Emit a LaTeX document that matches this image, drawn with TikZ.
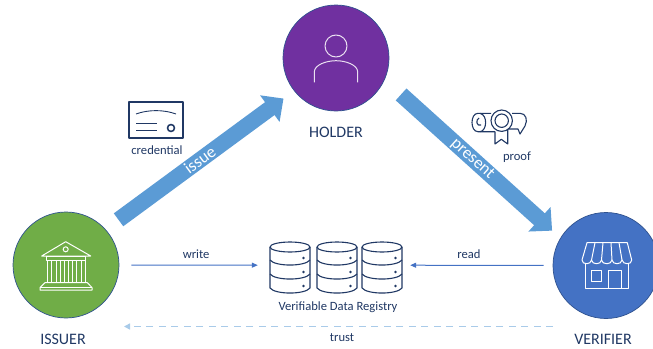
\documentclass[tikz,border=0pt]{standalone}
\usepackage{fontspec}
\setmainfont{Carlito}
\usetikzlibrary{arrows.meta,positioning}
\definecolor{navy}{HTML}{203864}
\definecolor{rim}{HTML}{2F528F}
\definecolor{issuergreen}{HTML}{70AD47}
\definecolor{holderpurple}{HTML}{7030A0}
\definecolor{verifierblue}{HTML}{4472C4}
\definecolor{arrowblue}{HTML}{5B9BD5}
\definecolor{trustblue}{HTML}{A9CBE9}

\begin{document}
\begin{tikzpicture}
[x=1pt, y=-1pt,
% STYLES
% The role style is used to draw the three big circles
role/.style={circle, draw=rim, line width=0.7pt, inner sep=0pt, minimum size=106pt},
% The rolename style is used for the captions below the circles
rolename/.style={text=navy, font=\fontsize{16}{18}\selectfont, inner sep=0pt},
% The caption style is used for the small labels
caption/.style={text=navy, font=\fontsize{12.6}{14}\selectfont, inner sep=0pt},
% The bigarrow style is used to draw the two wide arrows
bigarrow/.style={arrowblue, line width=16pt, -{Triangle[length=17pt,width=32pt]}},
% The arrowtext style is used for the text on the wide arrows
arrowtext/.style={text=white, font=\fontsize{17}{19}\selectfont, sloped, inner sep=0pt},
% The thinarrow style is used for write and read
thinarrow/.style={verifierblue, line width=1pt, -{Triangle[length=6pt,width=5pt]}},
% The icon styles are used for the line drawings
whiteicon/.style={draw=white, line width=1pt, line join=round},
navyicon/.style={draw=navy, line width=1.1pt, line join=round}]

\path[use as bounding box, clip] (0,0) rectangle (653,348);

% Draw roles
\node [role, fill=issuergreen] (issuer) at (66,265) {};
\node [role, fill=holderpurple] (holder) at (336,58) {};
\node [role, fill=verifierblue] (verifier) at (606,265.5) {};
\node [rolename, below=16pt of issuer, xshift=-3pt] (issuername) {ISSUER};
\node [rolename, below=16pt of holder] (holdername) {HOLDER};
\node [rolename, below=15pt of verifier, xshift=-3pt] (verifiername) {VERIFIER};

% REGISTRY
\node [minimum width=132pt, minimum height=52pt, inner sep=0pt] (registry) at (336,265.2) {};
\node [caption, below=10pt of registry, xshift=2pt] (registryname) {Verifiable Data Registry};

% Draw the links between roles
\path[bigarrow]
    (issuer.42.7) edge[shorten <=16pt, shorten >=13pt] node[arrowtext] {issue} (holder.218.8)
    (holder.-24.2) edge[shorten <=22pt, shorten >=11pt] node[arrowtext] {present} (verifier.149.9);
\path[thinarrow]
    (issuer.east) edge[shorten <=12pt, shorten >=12pt] node[caption, above=6pt, pos=0.51] (writelabel) {write} (registry.west)
    (verifier.west) edge[shorten <=9pt, shorten >=8pt] node[caption, above=6pt, pos=0.556] (readlabel) {read} (registry.east);
\coordinate (trustfrom) at (553,326.5);
\coordinate (trustto) at (124,326.5);
\draw[trustblue, line width=1.6pt, dash pattern=on 7pt off 5.5pt, -{Triangle[length=6pt,width=6pt]}] (trustfrom) -- (trustto);
\node [caption] (trustlabel) at (342,338) {trust};

% Issuer icon
\draw[whiteicon] (65.7,241.7) -- (90.7,256) -- (41.7,256) -- cycle;
\draw[whiteicon] (65.7,249.3) circle (2.5pt);
\draw[whiteicon] (46.7,256) rectangle (85.7,260);
\foreach \colx in {47.7,56.7,64.3,72.7,81}
    \draw[whiteicon] (\colx,260) rectangle ++(4,22.7);
\draw[whiteicon] (45,282.7) -- (87.3,282.7) -- (92,287.5) -- (92,290) -- (40,290) -- (40,287.5) -- cycle;
\draw[whiteicon] (40,287.5) -- (92,287.5);

% Holder icon
\draw[whiteicon, draw=white!85!holderpurple] (336,46) circle (11pt);
\draw[whiteicon, draw=white!85!holderpurple] (314.3,82.3) -- (314.3,72) .. controls (314.3,65) and (326,60.7) .. (336,60.7) .. controls (346,60.7) and (357.7,65) .. (357.7,72) -- (357.7,82.3);

% Verifier icon
\draw[whiteicon] (587,242.7) -- (627.3,242.7) -- (631.7,260) .. controls (631.7,265) and (623,265) .. (622,260)
    .. controls (621.5,265) and (612.5,265) .. (612,260) .. controls (611.5,265) and (602,265) .. (601.5,260)
    .. controls (601,265) and (592,265) .. (591.5,260) .. controls (591,265) and (582,265) .. (582,260) -- cycle;
\foreach \topx/\botx in {595/591.5,603/601.5,611/612,619/622}
    \draw[whiteicon] (\topx,242.7) -- (\botx,260);
\draw[whiteicon] (585,264) -- (585,288.3) -- (628.3,288.3) -- (628.3,264);
\draw[whiteicon] (591,270.7) rectangle (601.7,281.7);
\draw[whiteicon] (608.3,270.7) rectangle (621.7,288.3);

% Database icons
\foreach \dbx in {270,317,362} {
    \begin{scope}[xshift=\dbx pt]
    \draw[navyicon] (20,247) ellipse (20pt and 5pt);
    \draw[navyicon] (0,247) -- (0,288) .. controls (5,294.7) and (35,294.7) .. (40,288) -- (40,247);
    \draw[navyicon] (0,260) .. controls (5,266.7) and (35,266.7) .. (40,260);
    \draw[navyicon] (0,274) .. controls (5,280.7) and (35,280.7) .. (40,274);
    \foreach \doty in {258,272,286}
        \fill[navy] (33.5,\doty) circle (1.4pt);
    \end{scope}
}

% Credential icon
\draw[navyicon] (129,102) rectangle (183,138);
\draw[navyicon, line width=0.9pt] (136,114) .. controls (148,109.5) and (164,109.5) .. (176,114);
\draw[navyicon, line width=0.9pt] (136,123.5) -- (157,123.5);
\draw[navyicon, line width=0.9pt] (136,130) -- (157,130);
\draw[navyicon, line width=1.6pt] (171,128) circle (3.5pt);
\node [caption] (credentiallabel) at (157,150) {credential};

% Proof icon
\draw[navyicon] (491,113.3) -- (478,113.3) .. controls (470,113.3) and (470,131.7) .. (478,131.7) -- (495,131.7);
\draw[navyicon] (480,113.3) .. controls (488,115) and (487,131) .. (480,131.7);
\draw[navyicon] (479,118) .. controls (475,120) and (477,127) .. (481,125);
\draw[navyicon] (512,113.3) -- (520,113.3) .. controls (526,113.3) and (528,120) .. (525,126) -- (520,134) -- (518,129) -- (508,129);
\draw[navyicon] (501.7,120.7) circle (10.7pt);
\draw[navyicon] (501.7,120.7) circle (6.7pt);
\draw[navyicon] (495,131.7) -- (495,144) -- (501.3,139.3) -- (507.7,144) -- (507.7,130);
\node [caption] (proofname) at (517,157) {proof};

\end{tikzpicture}
\end{document}
